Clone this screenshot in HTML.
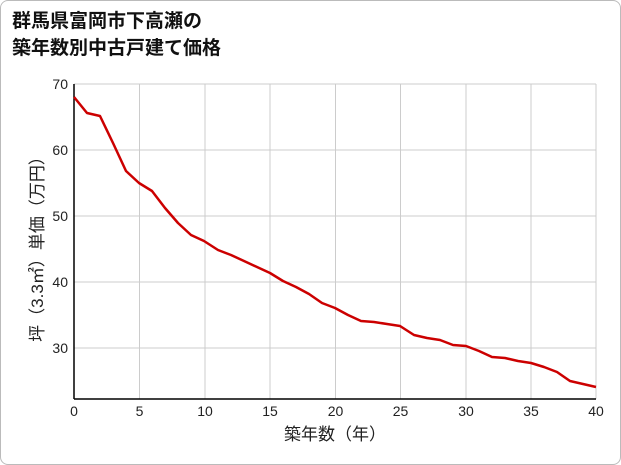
<!DOCTYPE html>
<html><head><meta charset="utf-8"><style>
body{margin:0;background:#fff;}
.f{position:absolute;left:0;top:0;width:619px;height:463px;border:1px solid #bbb;border-radius:8px;background:#fff;}
</style></head><body>
<div class="f"></div>
<svg width="621" height="465" style="position:absolute;left:0;top:0" font-family="'Liberation Sans','Noto Sans CJK JP',sans-serif">
<text x="12" y="27" font-size="19" font-weight="bold" fill="#111">群馬県富岡市下高瀬の</text>
<text x="12" y="54" font-size="19" font-weight="bold" fill="#111">築年数別中古戸建て価格</text>
<g stroke="#ccc" stroke-width="1">
<line x1="139.5" y1="84" x2="139.5" y2="399"/><line x1="205" y1="84" x2="205" y2="399"/>
<line x1="270" y1="84" x2="270" y2="399"/><line x1="335.5" y1="84" x2="335.5" y2="399"/>
<line x1="400.5" y1="84" x2="400.5" y2="399"/><line x1="466" y1="84" x2="466" y2="399"/>
<line x1="531" y1="84" x2="531" y2="399"/><line x1="596" y1="84" x2="596" y2="399"/>
<line x1="74" y1="84" x2="596" y2="84"/><line x1="74" y1="150" x2="596" y2="150"/>
<line x1="74" y1="216" x2="596" y2="216"/><line x1="74" y1="282" x2="596" y2="282"/>
<line x1="74" y1="348" x2="596" y2="348"/>
</g>
<line x1="74" y1="84" x2="74" y2="399" stroke="#000" stroke-width="1.5"/>
<line x1="74" y1="399" x2="596" y2="399" stroke="#000" stroke-width="1.5"/>
<g font-size="14" fill="#222" text-anchor="end">
<text x="68" y="89">70</text><text x="68" y="155">60</text><text x="68" y="221">50</text><text x="68" y="287">40</text><text x="68" y="353">30</text>
</g>
<g font-size="14" fill="#222" text-anchor="middle">
<text x="74" y="416">0</text><text x="139.5" y="416">5</text><text x="205" y="416">10</text><text x="270" y="416">15</text><text x="335.5" y="416">20</text><text x="400.5" y="416">25</text><text x="466" y="416">30</text><text x="531" y="416">35</text><text x="596" y="416">40</text>
<text x="335" y="440" font-size="17">築年数（年）</text>
</g>
<text transform="translate(43,245) rotate(-90)" font-size="17" fill="#222" text-anchor="middle">坪（3.3㎡）単価（万円）</text>
<polyline fill="none" stroke="#cc0000" stroke-width="2.5" stroke-linejoin="round" points="
74,97 87,113 100,116 113,143 126,171 139,183 152,191 165,208 178,223 191,235 204,241 218,250 231,255 244,261 257,267 270,273 283,281 296,287 309,294 322,303 335,308 348,315 361,321 374,322 387,324 400,326 414,335 427,338 440,340 453,345 466,346 479,351 492,357 505,358 518,361 531,363 544,367 557,372 570,381 583,384 596,387"/>
</svg>
</body></html>
